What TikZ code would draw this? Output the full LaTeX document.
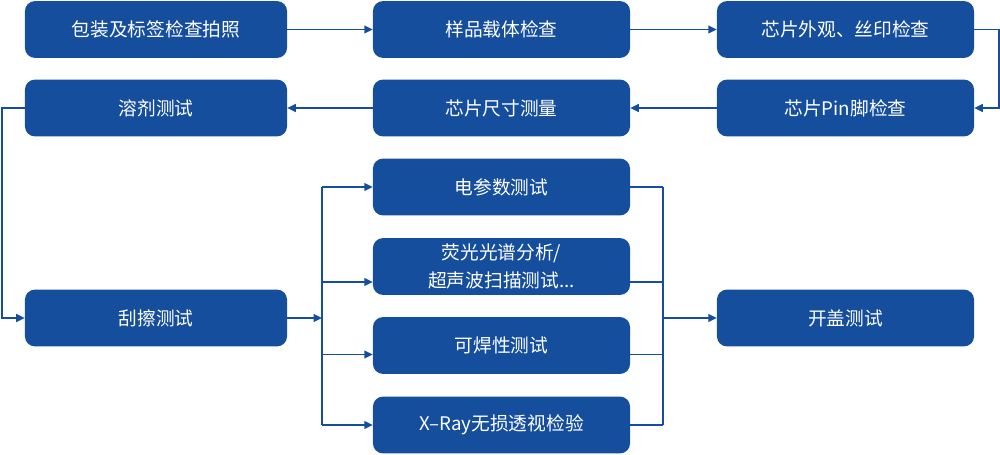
\documentclass[tikz,border=0pt]{standalone}
\usepackage{fontspec}
\newfontfamily\cjk{Noto Sans CJK SC}
\usepackage{tikz}
\usetikzlibrary{arrows.meta, positioning, calc}
\definecolor{boxblue}{RGB}{22,78,158}

\begin{document}
\begin{tikzpicture}[x=0.025cm, y=-0.025cm,
    font=\cjk\fontsize{13.3}{20}\selectfont,
    stepbox/.style={draw=none, fill=boxblue, text=white, rounded corners=0.25cm,
      minimum width=6.425cm, minimum height=1.42cm, align=center, inner sep=0pt},
    widebox/.style={stepbox, minimum width=6.55cm},
    link/.style={draw=boxblue, line width=1.3pt},
    flow/.style={link, -{Triangle[length=6pt,width=5.5pt]}}]
  \useasboundingbox (0,0) rectangle (1000,454);

  % ---------- caixas ----------
  \node[widebox] (pack)    at (156,29.5)   {包装及标签检查拍照};
  \node[stepbox] (carrier) at (501.5,29.5) {样品载体检查};
  \node[stepbox] (look)    at (845.5,29.5) {芯片外观、丝印检查};
  \node[widebox] (solvent) at (156,108)    {溶剂测试};
  \node[stepbox] (size)    at (501.5,108)  {芯片尺寸测量};
  \node[stepbox] (pin)     at (845.5,108)  {芯片Pin脚检查};
  \node[widebox] (scratch) at (156,318)    {刮擦测试};
  \node[stepbox] (elec)    at (501.5,187)  {电参数测试};
  \node[stepbox] (fluo)    at (501.5,266.5){荧光光谱分析/\\超声波扫描测试...};
  \node[stepbox] (weld)    at (501.5,345.5){可焊性测试};
  \node[stepbox] (xray)    at (501.5,425)  {X–Ray无损透视检验};
  \node[stepbox] (cap)     at (845.5,318)  {开盖测试};

  % ---------- fluxo principal ----------
  \draw[flow] (pack) -- (carrier);
  \draw[flow] (carrier) -- (look);
  \draw[flow] (look.east) -- ++(25,0) |- (pin.east);
  \draw[flow] (pin) -- (size);
  \draw[flow] (size) -- (solvent);
  \draw[flow] (solvent.west) -- ++(-23,0) |- (scratch.west);

  % ---------- ramificação ----------
  \coordinate (split) at (322,318);
  \coordinate (merge) at (663,318);
  \draw[flow] (scratch.east) -- (split);
  \foreach \n/\dy in {elec/0, fluo/15.5, weld/9, xray/0}{
    \coordinate (in\n)  at ($(\n.west)+(0,\dy)$);
    \coordinate (out\n) at ($(\n.east)+(0,\dy)$);
    \draw[flow] (split |- in\n) -- (in\n);
    \draw[link] (out\n) -- (merge |- out\n);
  }
  \draw[link] (split |- inelec) -- (split |- inxray);
  \draw[link] (merge |- outelec) -- (merge |- outxray);
  \draw[flow] (merge) -- (cap.west);
\end{tikzpicture}
\end{document}
